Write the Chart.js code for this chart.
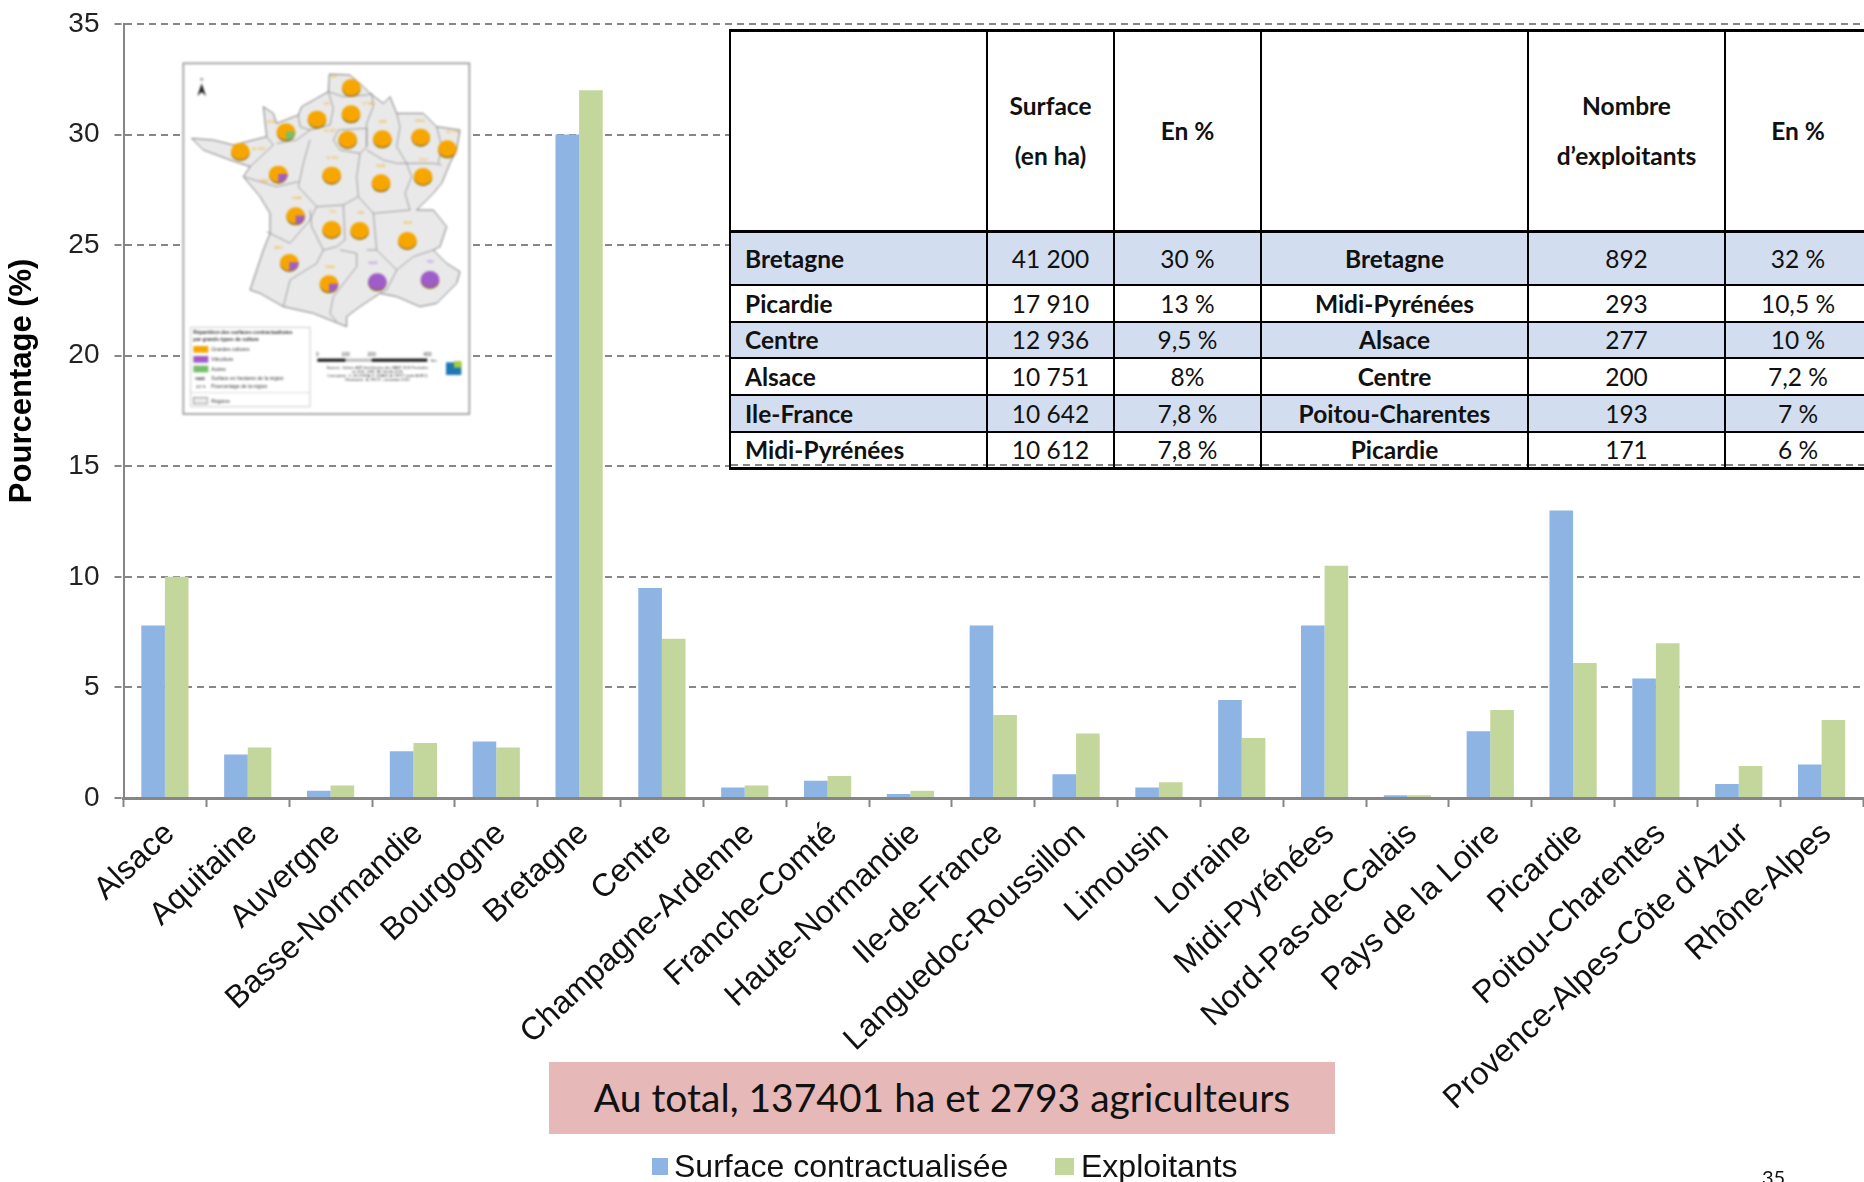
<!DOCTYPE html>
<html lang="fr">
<head>
<meta charset="utf-8">
<title>Surfaces contractualisées et exploitants par région</title>
<script src="https://cdn.jsdelivr.net/npm/chart.js@4/dist/chart.umd.min.js"></script>
<style>
  html, body { margin: 0; padding: 0; background: #fff; }
  #page { position: relative; width: 1864px; height: 1182px; overflow: hidden; }
  #myChart { position: absolute; left: 0; top: 0; }

  /* Tableau des six premières régions */
  #topRegions {
    position: absolute; left: 729px; top: 29px; width: 1141px;
    table-layout: fixed; border-collapse: collapse; background: #fff;
    font: 24.5px Lato, sans-serif; color: #111;
  }
  #topRegions td { border: 2px solid #000; padding: 0; text-align: center; }
  #topRegions tr:first-child td { font-weight: 700; line-height: 50px; border-top-width: 3px; border-bottom-width: 3px; }
  #topRegions td.region { font-weight: 700; }
  #topRegions td.first { text-align: left; padding-left: 14px; }
  #topRegions tr.shaded td { background: #d2deef; }
  #topRegions tr:last-child td {
    border-bottom-width: 3px;
    background: repeating-linear-gradient(90deg, #868686 0 7px, transparent 7px 12px) left bottom 1px / 100% 2px no-repeat;
  }

  #mapInset { position: absolute; left: 170px; top: 50px; width: 320px; height: 380px; filter: blur(0.8px); }

  #totalBox {
    position: absolute; left: 549px; top: 1062px; width: 786px; height: 72px;
    background: #e6b8b7; color: #111; text-align: center;
    font: 39px/70px Lato, sans-serif;
  }
  #pageNumber { position: absolute; left: 1762px; top: 1165px; font: 20px Lato, sans-serif; color: #111; }

  /* Légende sous le graphique */
  .legendItem { position: absolute; top: 1146px; font: 32px/40px "Liberation Sans", sans-serif; color: #111; white-space: nowrap; }
  .legendBox { position: absolute; top: 1158px; height: 17px; }
</style>
</head>
<body>
<div id="page">
  <canvas id="myChart" width="1864" height="1182"></canvas>
  <svg id="mapInset" viewBox="0 0 960 1140" xmlns="http://www.w3.org/2000/svg"></svg>
  <table id="topRegions"></table>
  <div id="totalBox">Au total, 137401 ha et 2793 agriculteurs</div>
  <div class="legendBox" style="left:652px;width:16px;background:#8eb4e3"></div>
  <div class="legendItem" style="left:674px">Surface contractualisée</div>
  <div class="legendBox" style="left:1055px;width:19px;background:#c3d69b"></div>
  <div class="legendItem" style="left:1081px">Exploitants</div>
  <div id="pageNumber">35</div>
</div>

<script>
// Données du graphique
const regions = ["Alsace", "Aquitaine", "Auvergne", "Basse-Normandie", "Bourgogne", "Bretagne", "Centre",
  "Champagne-Ardenne", "Franche-Comté", "Haute-Normandie", "Ile-de-France", "Languedoc-Roussillon", "Limousin",
  "Lorraine", "Midi-Pyrénées", "Nord-Pas-de-Calais", "Pays de la Loire", "Picardie", "Poitou-Charentes",
  "Provence-Alpes-Côte d'Azur", "Rhône-Alpes"];
const surfaceValues = [7.8, 1.97, 0.33, 2.11, 2.56, 30, 9.5, 0.48, 0.78, 0.18, 7.8, 1.07, 0.48, 4.43, 7.8, 0.12, 3.02, 13, 5.4, 0.63, 1.52];
const exploitantValues = [10, 2.28, 0.56, 2.49, 2.28, 32, 7.2, 0.56, 1.0, 0.33, 3.75, 2.92, 0.71, 2.71, 10.5, 0.12, 3.98, 6.1, 7, 1.45, 3.53];
const yTicks = [0, 5, 10, 15, 20, 25, 30, 35];

// Contenu du tableau
const tableHeader = ["", "Surface<br>(en ha)", "En %", "", "Nombre<br>d’exploitants", "En %"];
const tableRows = [
  ["Bretagne", "41 200", "30 %", "Bretagne", "892", "32 %"],
  ["Picardie", "17 910", "13 %", "Midi-Pyrénées", "293", "10,5 %"],
  ["Centre", "12 936", "9,5 %", "Alsace", "277", "10 %"],
  ["Alsace", "10 751", "8%", "Centre", "200", "7,2 %"],
  ["Ile-France", "10 642", "7,8 %", "Poitou-Charentes", "193", "7 %"],
  ["Midi-Pyrénées", "10 612", "7,8 %", "Picardie", "171", "6 %"]
];
const columnWidths = [257, 127, 147, 267, 197, 146];
const rowHeights = [201, 53, 37, 36, 37, 37, 37];

function buildTable() {
  const table = document.getElementById('topRegions');
  let html = '<colgroup>' + columnWidths.map(w => `<col style="width:${w}px">`).join('') + '</colgroup>';
  html += `<tr style="height:${rowHeights[0]}px">` + tableHeader.map(c => `<td>${c}</td>`).join('') + '</tr>';
  tableRows.forEach((row, i) => {
    const cls = i % 2 === 0 ? ' class="shaded"' : '';
    html += `<tr${cls} style="height:${rowHeights[i + 1]}px">` + row.map((c, j) => {
      if (j === 0) return `<td class="region first">${c}</td>`;
      if (j === 3) return `<td class="region">${c}</td>`;
      return `<td>${c}</td>`;
    }).join('') + '</tr>';
  });
  table.innerHTML = html;
}

// Carte de France en vignette
const franceOutline = "478,72 540,75 575,105 600,130 640,160 660,140 680,190 760,190 800,230 870,240 860,300 840,340 815,400 790,430 740,480 790,480 830,530 810,590 790,600 830,640 870,665 860,700 800,760 750,770 680,740 630,730 570,770 530,800 530,830 480,810 430,790 340,770 270,730 240,720 280,600 300,550 300,490 270,440 220,380 240,350 180,330 100,300 65,265 130,270 190,285 290,260 280,170 310,190 320,220 385,195 395,170 475,125";
const regionBorders = [
  "475,125 520,140 590,135 605,130", "475,125 490,175 480,225", "385,195 390,230 420,240 480,225",
  "605,130 610,170 590,220 590,290", "505,240 590,235 590,290 570,310 510,300 490,270 505,240",
  "680,190 690,230 680,290 710,340", "800,230 815,290 805,340", "590,300 640,330 680,340 710,340",
  "710,340 790,340 815,345", "710,340 725,380 705,430 720,480", "240,350 310,285 290,260",
  "320,280 380,270 420,240", "420,270 400,340 385,410", "220,380 320,410 385,395",
  "570,310 560,380 565,440", "385,410 440,470 520,465 565,440", "290,545 360,580 420,510 440,470",
  "420,480 425,530 460,600 500,590", "520,465 525,570 500,590", "610,490 620,600 590,600",
  "565,440 610,490 720,480", "460,600 440,640 360,690 340,770", "510,600 560,610 560,650 490,740 480,790 500,815",
  "650,720 630,730", "730,620 790,600", "730,620 680,660 650,720", "620,600 680,660"
];
const ORANGE = "#f7a600", PURPLE = "#a05cc8", GREEN = "#74c069";
// centre x, centre y, couleur principale, part secondaire, étiquette
const mapPies = [
  [544, 112, ORANGE, null, "765", 490, 85], [441, 207, ORANGE, null, "761", 470, 165],
  [543, 191, ORANGE, null, "17 905", 595, 165], [348, 245, ORANGE, GREEN, "3582", 305, 220],
  [533, 268, ORANGE, null, "10 567", 480, 245], [637, 266, ORANGE, null, "898", 638, 218],
  [752, 261, ORANGE, null, "6614", 750, 215], [832, 296, ORANGE, null, "10 735", 848, 248],
  [211, 304, ORANGE, null, "41 200", 265, 300], [325, 372, ORANGE, PURPLE, "3364", 282, 395],
  [485, 375, ORANGE, null, "12 931", 487, 328], [633, 398, ORANGE, null, "3436", 632, 350],
  [759, 379, ORANGE, null, "1557", 760, 332], [377, 497, ORANGE, PURPLE, "5444", 380, 448],
  [485, 538, ORANGE, null, "715", 487, 490], [569, 541, ORANGE, null, "382", 572, 492],
  [712, 571, ORANGE, null, "1832", 713, 522], [358, 637, ORANGE, PURPLE, "2827", 325, 597],
  [477, 701, ORANGE, PURPLE, "9454", 480, 655], [622, 695, PURPLE, null, "1416", 608, 642],
  [780, 688, PURPLE, null, "792", 780, 640]
];
const mapLegendEntries = [[ORANGE, "Grandes cultures", 898], [PURPLE, "Viticulture", 928], [GREEN, "Autres", 957]];
const mapSources = ["Sources : fichiers ASP bénéficiaires des MAET SCE Pesticides", "en 2011, DSR, BD Géofla 2005",
  "Conception : C. ECCRIGA, F. GIVAIS, A. PETIT (unité AGRO)", "Réalisation : A. PETIT - novembre 2013"];

function drawMapInset() {
  let s = '<rect x="40" y="40" width="858" height="1052" fill="#fff" stroke="#999" stroke-width="5"/>';
  s += `<polygon points="${franceOutline}" fill="#e9e9e9" stroke="#666" stroke-width="2.5"/>`;
  regionBorders.forEach(p => { s += `<polyline points="${p}" fill="none" stroke="#777" stroke-width="2"/>`; });
  // boussole
  s += '<path d="M95 100 L82 138 L95 126 L108 138 Z" fill="#222"/><text x="95" y="92" font-size="14" text-anchor="middle" fill="#222">N</text>';
  mapPies.forEach(([x, y, color, part, label, lx, ly]) => {
    s += `<ellipse cx="${x}" cy="${y + 4}" rx="28" ry="25" fill="#8a6a20"/>`;
    s += `<ellipse cx="${x}" cy="${y}" rx="28" ry="25" fill="${color}"/>`;
    if (part) s += `<path d="M${x} ${y} L${x + 28} ${y} A28 25 0 0 1 ${x} ${y + 25} Z" fill="${part}"/>`;
    s += `<text x="${lx}" y="${ly}" font-size="14" text-anchor="middle" fill="${color}">${label}</text>`;
  });
  // légende de la carte
  s += '<rect x="62" y="832" width="358" height="238" fill="#fff" stroke="#ccc" stroke-width="3"/>';
  s += '<g font-family="Liberation Sans" font-size="15" fill="#333">';
  s += '<text x="70" y="853" font-weight="700">Répartition des surfaces contractualisées</text><text x="70" y="874" font-weight="700">par grands types de culture</text>';
  mapLegendEntries.forEach(([c, t, y]) => {
    s += `<rect x="70" y="${y - 10}" width="45" height="20" fill="${c}"/><text x="124" y="${y + 5}">${t}</text>`;
  });
  s += '<text x="76" y="989" font-weight="700" font-size="13">9442</text><text x="124" y="989">Surface en hectares de la région</text>';
  s += '<text x="78" y="1014" font-size="13">44 %</text><text x="124" y="1014">Pourcentage de la région</text>';
  s += '<line x1="62" y1="1028" x2="420" y2="1028" stroke="#ccc" stroke-width="2"/>';
  s += '<rect x="70" y="1042" width="42" height="20" fill="#e9e9e9" stroke="#777" stroke-width="2"/><text x="124" y="1058">Régions</text>';
  // échelle et sources
  s += '<rect x="442" y="926" width="85" height="9" fill="#111"/><rect x="527" y="926" width="78" height="9" fill="#bbb"/><rect x="605" y="926" width="167" height="9" fill="#111"/>';
  [["0", 442], ["100", 527], ["200", 605], ["400", 772]].forEach(([t, x]) => { s += `<text x="${x}" y="919" text-anchor="middle">${t}</text>`; });
  s += '<text x="782" y="936" font-size="12">Km</text>';
  mapSources.forEach((t, i) => { s += `<text x="622" y="${956 + i * 12}" font-size="11" text-anchor="middle">${t}</text>`; });
  s += '</g>';
  s += '<rect x="828" y="937" width="46" height="38" fill="#1f78b4"/><rect x="852" y="933" width="22" height="20" fill="#a8cc3a"/>';
  document.getElementById('mapInset').innerHTML = s;
}

// Création du graphique
function createChart() {
  const ctx = document.getElementById('myChart').getContext('2d');
  const gray = '#868686';
  new Chart(ctx, {
    type: 'bar',
    data: {
      labels: regions,
      datasets: [
        { label: 'Surface contractualisée', data: surfaceValues, backgroundColor: '#8eb4e3' },
        { label: 'Exploitants', data: exploitantValues, backgroundColor: '#c3d69b' }
      ]
    },
    options: {
      responsive: false,
      animation: false,
      devicePixelRatio: 1,
      layout: { padding: { left: 0, right: 1, top: 24, bottom: 0 } },
      datasets: { bar: { categoryPercentage: 0.57, barPercentage: 1 } },
      plugins: {
        title: { display: false },
        tooltip: { enabled: false },
        legend: { display: false }
      },
      scales: {
        x: {
          offset: true,
          afterFit: scale => { scale.height = 384; },
          border: { color: gray, width: 3 },
          grid: { offset: true, drawOnChartArea: false, drawTicks: true, tickLength: 9, tickColor: gray, tickWidth: 2, color: gray },
          ticks: {
            autoSkip: false, maxRotation: 43, minRotation: 43, padding: 8, labelOffset: 5, color: '#111',
            font: { family: 'Liberation Sans', size: 32 }
          }
        },
        y: {
          min: 0, max: 35,
          afterFit: scale => { scale.width = 123.5; scale.paddingTop = 0; scale.paddingBottom = 0; },
          afterBuildTicks: scale => { scale.ticks = yTicks.map(value => ({ value })); },
          border: { color: gray, width: 2, dash: [7, 5] },
          grid: { color: gray, lineWidth: 2, tickLength: 9, tickColor: gray, tickWidth: 2, drawTicks: true, tickBorderDash: [7, 5] },
          ticks: { padding: 15, color: '#222', font: { family: 'Liberation Sans', size: 28 } },
          title: {
            // les espaces insécables en tête remontent le titre au-dessus du milieu de l'axe
            display: true, text: '\u00A0\u00A0\u00A0\u00A0\u00A0\u00A0\u00A0Pourcentage (%)', color: '#000', padding: { top: 4, bottom: 0 },
            font: { family: 'Liberation Sans', size: 31, weight: 'bold' }
          }
        }
      }
    }
  });
}

document.addEventListener('DOMContentLoaded', () => {
  buildTable();
  drawMapInset();
  createChart();
});
</script>
</body>
</html>
